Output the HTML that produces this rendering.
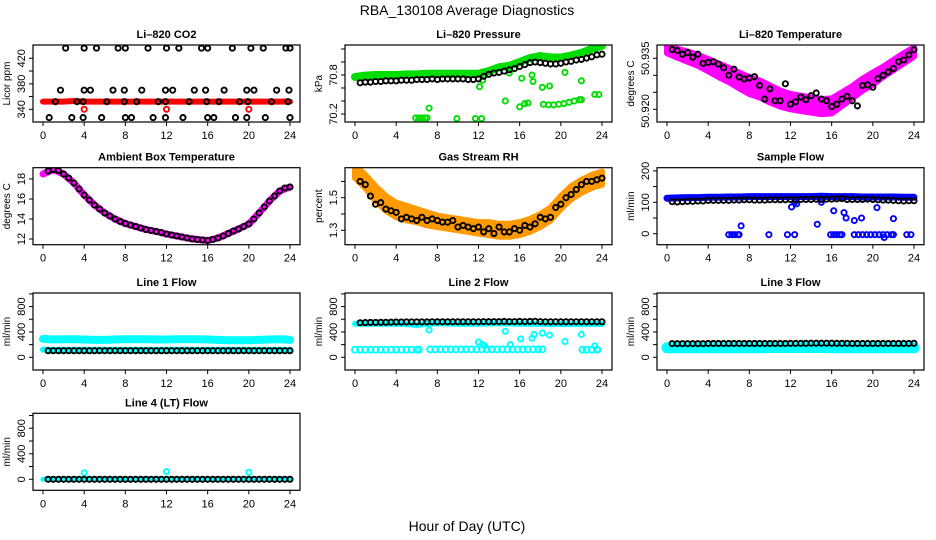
<!DOCTYPE html>
<html><head><meta charset="utf-8"><style>
html,body{margin:0;padding:0;background:#fff;}
svg{display:block;font-family:"Liberation Sans",sans-serif;}
</style></head><body>
<svg id="c" width="936" height="540" viewBox="0 0 936 540" xmlns="http://www.w3.org/2000/svg">
<text x="467" y="15" font-size="14" text-anchor="middle">RBA_130108  Average Diagnostics</text>
<text x="467" y="531" font-size="14" text-anchor="middle">Hour of Day (UTC)</text>
</svg>
<script>
// ---- shared hour arrays ----
const HB = [0.5,1,1.5,2,2.5,3,3.5,4,4.5,5,5.5,6,6.5,7,7.5,8,8.5,9,9.5,10,10.5,11,11.5,12,12.5,13,13.5,14,14.5,15,15.5,16,16.5,17,17.5,18,18.5,19,19.5,20,20.5,21,21.5,22,22.5,23,23.5,24];
const HD = [0,1,2,3,4,5,6,7,8,9,10,11,12,13,14,15,16,17,18,19,20,21,22,23,24];
const xTicks = [0,4,8,12,16,20,24];

// ---- CO2 ----
const co2H = [2.2,4.0,5.2,7.3,8.0,10.2,12.0,13.2,15.4,16.0,18.4,20.2,21.4,23.6,24,
 1.7,4.0,4.6,6.8,7.9,9.6,11.9,12.6,14.7,15.8,17.6,19.8,20.5,22.7,23.9,
 1.2,3.3,3.9,6.2,7.9,9.1,11.2,11.9,14.2,15.9,17.1,19.1,19.9,22.2,23.8,
 0.6,2.8,3.9,5.7,8.0,8.6,10.7,11.9,13.6,16.0,16.6,18.7,19.8,21.6,24.0];
const co2V = [436,436,436,436,436,436,436,436,436,436,436,436,436,436,436,
 370,370,370,370,370,370,370,370,370,370,370,370,370,370,370,
 352,352,352,352,352,352,352,352,352,352,352,352,352,352,352,
 327,327,327,327,327,327,327,327,327,327,327,327,327,327,327];
const co2Red = [352,352,352,353,352,352,352,352,352,352,352,352,352,352,352,352,352,352,352,352,352,352,352,352,352];
const co2RedOutH = [4,12,20];
const co2RedOutV = [340,340,340];

// ---- Pressure ----
const pressB = [70.68,70.69,70.69,70.70,70.70,70.71,70.71,70.71,70.72,70.72,70.72,70.73,70.73,70.73,70.74,70.73,70.74,70.74,70.74,70.74,70.74,70.73,70.73,70.74,70.78,70.81,70.83,70.84,70.86,70.88,70.90,70.93,70.96,70.99,71.00,70.99,70.98,70.97,70.97,70.98,71.00,71.01,71.03,71.04,71.06,71.08,71.11,71.12];
const pressG = [70.77,70.79,70.80,70.80,70.80,70.81,70.81,70.82,70.82,70.82,70.82,70.82,70.82,70.86,70.92,70.94,71.00,71.06,71.09,71.07,71.07,71.10,71.14,71.20,71.25];
const pressGH = [5.9,6.2,6.5,6.8,7.0,7.2,9.9,11.7,12.3,12.1,12.4,14.6,15.0,16.0,16.2,16.5,16.8,17.2,17.3,18.2,18.9,18.3,18.8,19.3,19.8,20.3,20.8,21.3,21.8,22.0,20.4,22.0,23.3,23.7];
const pressGV = [70.14,70.14,70.14,70.14,70.14,70.29,70.13,70.13,70.13,70.62,70.72,70.40,70.83,70.31,70.75,70.36,70.37,70.80,70.70,70.61,70.63,70.35,70.34,70.34,70.35,70.36,70.38,70.40,70.42,70.42,70.84,70.71,70.50,70.50];

// ---- Li-820 temperature ----
const tempHi = [50.9385,50.9378,50.9370,50.9360,50.9348,50.9335,50.9322,50.9308,50.9295,50.9285,50.9270,50.9255,50.9245,50.9240,50.9235,50.9230,50.9232,50.9250,50.9268,50.9290,50.9308,50.9325,50.9345,50.9365,50.9382];
const tempLo = [50.9365,50.9352,50.9340,50.9328,50.9312,50.9295,50.9280,50.9262,50.9245,50.9235,50.9220,50.9208,50.9200,50.9195,50.9190,50.9186,50.9188,50.9210,50.9232,50.9255,50.9272,50.9295,50.9315,50.9335,50.9355];
const tempB = [50.9376,50.9373,50.9362,50.9367,50.9353,50.9362,50.9335,50.9338,50.9340,50.9333,50.9322,50.9300,50.9318,50.9295,50.9289,50.9292,50.9296,50.9270,50.9230,50.9260,50.9225,50.9225,50.9275,50.9215,50.9222,50.9236,50.9228,50.9240,50.9248,50.9230,50.9225,50.9208,50.9215,50.9230,50.9238,50.9225,50.9210,50.9270,50.9272,50.9265,50.9290,50.9300,50.9310,50.9320,50.9340,50.9345,50.9360,50.9375];

// ---- Ambient box temperature ----
const ambB = [18.8,18.95,18.85,18.5,18.1,17.6,17.0,16.4,15.9,15.4,15.0,14.6,14.3,14.0,13.75,13.55,13.4,13.25,13.1,12.95,12.85,12.75,12.65,12.5,12.4,12.3,12.2,12.1,12.0,11.95,11.9,11.85,11.95,12.1,12.3,12.55,12.8,13.0,13.25,13.5,14.0,14.6,15.2,15.8,16.3,16.8,17.1,17.2];
const ambM = [18.5,18.95,18.5,17.6,16.4,15.4,14.6,14.0,13.55,13.25,12.95,12.75,12.5,12.3,12.1,11.95,11.85,12.1,12.55,13.0,13.5,14.6,15.8,16.8,17.2];

// ---- Gas stream RH ----
const rhHi = [1.70,1.64,1.57,1.51,1.47,1.45,1.43,1.41,1.39,1.38,1.37,1.36,1.35,1.35,1.34,1.34,1.35,1.37,1.40,1.44,1.51,1.57,1.61,1.64,1.66];
const rhLo = [1.62,1.56,1.48,1.42,1.38,1.36,1.35,1.33,1.32,1.31,1.30,1.29,1.28,1.27,1.26,1.26,1.27,1.29,1.32,1.36,1.43,1.49,1.53,1.56,1.58];
const rhB = [1.60,1.58,1.51,1.46,1.47,1.43,1.42,1.41,1.37,1.38,1.37,1.36,1.38,1.36,1.37,1.36,1.35,1.35,1.36,1.32,1.33,1.32,1.31,1.32,1.29,1.31,1.28,1.32,1.29,1.29,1.31,1.30,1.33,1.32,1.34,1.38,1.37,1.38,1.44,1.46,1.50,1.52,1.55,1.58,1.60,1.60,1.61,1.62];

// ---- Sample flow ----
const sampB = [102,101,102,103,103,104,104,106,106,106,106,106,107,107,108,108,107,107,107,108,108,108,108,109,108,109,109,109,110,109,110,110,111,112,109,109,109,109,110,109,108,107,107,106,105,104,105,105];
const sampBlue = [113,114,115,115,116,116,117,117,118,118,118,118,118,118,118,119,118,118,118,117,117,117,117,116,116];
const sampLoH = [6.0,6.3,6.6,6.9,7.0,9.9,11.7,12.4,15.9,16.2,16.5,16.8,17.0,18.2,18.6,19.0,19.4,19.8,20.2,20.6,21.0,21.1,21.4,21.8,22.0,23.3,23.7,7.2,12.1,12.4,12.6,14.6,15.0,16.2,17.2,17.4,18.2,18.9,20.4,22.0];
const sampLoV = [-3,-3,-3,-3,-3,-3,-3,-3,-3,-3,-3,-3,-3,-3,-3,-3,-3,-3,-3,-3,-3,-12,-3,-3,-3,-3,-3,25,85,100,95,30,100,73,67,50,42,50,83,48];

// ---- Line flows ----
const l1Cyan = [290,280,285,285,280,275,275,280,285,285,285,280,280,285,285,285,280,275,270,270,270,275,280,285,275];
const l1CyanLow = [120,120,118,118,118,118,118,118,118,118,118,118,118,118,118,118,118,118,118,118,118,118,118,118,118];
const l1B = [104,104,104,104,104,104,104,104,104,104,104,104,104,104,104,104,104,104,104,104,104,104,104,104,104,104,104,104,104,104,104,104,104,104,104,104,104,104,104,104,104,104,104,104,104,104,104,104];
const l2B = [545,548,550,550,552,552,555,556,556,558,558,558,558,558,560,560,560,560,560,560,560,560,560,560,562,562,562,562,565,562,562,565,562,565,568,562,560,560,560,560,560,560,560,560,560,560,560,560];
const l2Cyan = [530,530,530,530,530,525,510,530,535,535,530,530,530,535,535,535,530,530,530,525,525,525,525,530,525];
const l2LowH = [0,0.5,1,1.5,2,2.5,3,3.5,4,4.5,5,5.5,6,6.2,7.3,7.8,8.3,8.8,9.3,9.8,10.3,10.8,11.3,11.8,12.3,12.8,13.3,13.8,14.3,14.8,15.3,15.8,16.3,16.8,17.3,17.8,18.2,22.1,22.5,23.0,23.5];
const l2LowV = [120,120,120,120,120,120,120,120,120,120,120,120,120,120,125,125,125,125,125,125,125,125,125,125,125,125,125,125,125,125,125,125,125,125,125,125,125,120,120,120,120];
const l2OutH = [7.2,12.0,12.4,12.6,14.6,15.1,16.1,17.2,17.4,18.2,18.9,20.4,22.0,23.3,23.6];
const l2OutV = [430,240,200,180,410,200,290,300,360,380,350,250,360,180,120];
const l3Cyan = [150,150,150,150,150,150,150,150,150,150,155,155,155,155,155,155,150,150,150,150,150,150,150,150,150];
const l3B = [215,215,215,215,215,215,215,218,218,218,218,218,218,218,218,218,218,218,218,218,218,218,218,220,220,220,220,222,222,222,222,222,220,220,220,218,218,218,218,218,218,218,218,218,218,218,218,220];
const l4B = [0,0,0,0,0,0,0,0,0,0,0,0,0,0,0,0,0,0,0,0,0,0,0,0,0,0,0,0,0,0,0,0,0,0,0,0,0,0,0,0,0,0,0,0,0,0,0,0];
const l4Cyan = [0,0,0,0,0,0,0,0,0,0,0,0,0,0,0,0,0,0,0,0,0,0,0,0,0];
const l4OutH = [4,12,20];
const l4OutV = [100,120,110];

// ---------------- drawing ----------------
const NS = "http://www.w3.org/2000/svg";
const svg = document.getElementById('c');
const ROWT = [45, 167.7, 293, 413.3];
const PH = 77;
function mk(tag, attrs, parent) {
  const e = document.createElementNS(NS, tag);
  for (const k in attrs) e.setAttribute(k, attrs[k]);
  (parent || svg).appendChild(e);
  return e;
}
function panel(id, col, row, title, ylab, v0, p0, k, ticks, labels) {
  const L = 33 + 312 * col, R = 300 + 312 * col, T = ROWT[row], B = T + PH;
  const g = mk('g', {});
  
  
  const cp = mk('clipPath', {id: 'clip-' + id}, g);
  mk('rect', {x: L, y: T, width: R - L, height: PH}, cp);
  const P = {
    g, L, R, T, B,
    x: h => 43 + 312 * col + h * 247 / 24,
    y: v => T + p0 - (v - v0) * k
  };
  P.data = mk('g', {'clip-path': 'url(#clip-' + id + ')'}, g);
  const t = mk('text', {x: (L + R) / 2 + 0, y: T - 7, 'font-size': 11, 'font-weight': 'bold', 'text-anchor': 'middle'}, g);
  t.textContent = title;
  
  
  const yl = mk('text', {transform: 'translate(' + (10 + 312 * col) + ',' + (T + PH / 2) + ') rotate(-90)', 'font-size': 10, 'text-anchor': 'middle'}, g);
  yl.textContent = ylab;
  
  
  xTicks.forEach(h => {
    const xx = P.x(h);
    mk('line', {x1: xx, x2: xx, y1: B, y2: B + 4, stroke: '#000', 'stroke-width': 1}, g);
    const tl = mk('text', {x: xx, y: B + 17, 'font-size': 11, 'text-anchor': 'middle'}, g);
    tl.textContent = h;
    
    
  });
  ticks.forEach(v => {
    const yy = P.y(v);
    mk('line', {x1: L - 4, x2: L, y1: yy, y2: yy, stroke: '#000', 'stroke-width': 1}, g);
  });
  labels.forEach(lb => {
    const yy = P.y(lb[0]);
    const tl = mk('text', {transform: 'translate(' + (L - 8) + ',' + yy + ') rotate(-90)', 'font-size': 11, 'text-anchor': 'middle'}, g);
    tl.textContent = lb[1];
    
    
  });
  P.frame = function () {
    const f = mk('rect', {x: L, y: T, width: R - L, height: PH, fill: 'none', stroke: '#000', 'stroke-width': 1.2}, g);
    
    
  };
  return P;
}
function points(P, hs, vs, color, name, r) {
  const n = Math.min(hs.length, vs.length);
  for (let i = 0; i < n; i++) {
    const c = mk('circle', {cx: P.x(hs[i]), cy: P.y(vs[i]), r: r || 2.6, fill: 'none', stroke: color, 'stroke-width': 1.9}, P.data);
    
    
  }
}
function band(P, hs, vs, color, w, name) {
  const n = Math.min(hs.length, vs.length);
  let pts = [];
  for (let i = 0; i < n; i++) pts.push(P.x(hs[i]).toFixed(1) + ',' + P.y(vs[i]).toFixed(1));
  const pl = mk('polyline', {points: pts.join(' '), fill: 'none', stroke: color, 'stroke-width': w, 'stroke-linejoin': 'round', 'stroke-linecap': 'round'}, P.data);
  
  
}
function area(P, hs, lo, hi, color, name) {
  const n = Math.min(hs.length, lo.length, hi.length);
  let pts = [];
  for (let i = 0; i < n; i++) pts.push(P.x(hs[i]).toFixed(1) + ',' + P.y(hi[i]).toFixed(1));
  for (let i = n - 1; i >= 0; i--) pts.push(P.x(hs[i]).toFixed(1) + ',' + P.y(lo[i]).toFixed(1));
  const pg = mk('polygon', {points: pts.join(' '), fill: color, stroke: color, 'stroke-width': 6, 'stroke-linejoin': 'round'}, P.data);
  
  
}

let P = panel('co2', 0, 0, 'Li\u2013820 CO2', 'Licor ppm', 340, 64.3, 0.6375, [340,360,380,400,420], [[340,'340'],[380,'380'],[420,'420']]);
band(P, HD, co2Red, '#ff0000', 6, 'co2-red-series');
points(P, co2RedOutH, co2RedOutV, '#ff0000', 'co2-red-point');
points(P, co2H, co2V, '#000', 'co2-black-point');
P.frame();

P = panel('pressure', 1, 0, 'Li\u2013820 Pressure', 'kPa', 70.2, 69, 65, [70.2,70.4,70.6,70.8,71.0,71.2], [[70.2,'70.2'],[70.8,'70.8']]);
band(P, HD, pressG, '#00dd00', 8, 'pressure-green-series');
points(P, pressGH, pressGV, '#00dd00', 'pressure-green-point');
points(P, HB, pressB, '#000', 'pressure-black-point');
P.frame();

P = panel('li820-temp', 2, 0, 'Li\u2013820 Temperature', 'degrees C', 50.920, 64.3, 3400, [50.920,50.925,50.930,50.935], [[50.935,'50.935'],[50.9195,'50.920']]);
area(P, HD, tempLo, tempHi, '#ff00ff', 'li820-temp-magenta-series');
points(P, HB, tempB, '#000', 'li820-temp-black-point');
P.frame();

P = panel('ambient', 0, 1, 'Ambient Box Temperature', 'degrees C', 12, 71.3, 10, [12,14,16,18], [[12,'12'],[14,'14'],[16,'16'],[18,'18']]);
band(P, HD, ambM, '#ff00ff', 7, 'ambient-magenta-series');
points(P, HB, ambB, '#000', 'ambient-black-point');
P.frame();

P = panel('rh', 1, 1, 'Gas Stream RH', 'percent', 1.3, 62.6, 163, [1.3,1.4,1.5,1.6], [[1.3,'1.3'],[1.5,'1.5']]);
area(P, HD, rhLo, rhHi, '#ff9a00', 'rh-orange-series');
points(P, HB, rhB, '#000', 'rh-black-point');
P.frame();

P = panel('sample-flow', 2, 1, 'Sample Flow', 'ml/min', 0, 66, 0.314, [0,50,100,150,200], [[0,'0'],[100,'100'],[200,'200']]);
band(P, HD, sampBlue, '#0000ff', 7, 'sample-flow-blue-series');
points(P, sampLoH, sampLoV, '#0000ff', 'sample-flow-blue-point');
points(P, HB, sampB, '#000', 'sample-flow-black-point');
P.frame();

const flowTicks = [0,200,400,600,800,1000];
const flowLabels = [[0,'0'],[400,'400'],[800,'800']];
P = panel('line1', 0, 2, 'Line 1 Flow', 'ml/min', 0, 64.3, 0.0634, flowTicks, flowLabels);
band(P, HD, l1Cyan, '#00ffff', 8, 'line1-cyan-series');
band(P, HD, l1CyanLow, '#00ffff', 6, 'line1-cyan-low-series');
points(P, HB, l1B, '#000', 'line1-black-point');
P.frame();

P = panel('line2', 1, 2, 'Line 2 Flow', 'ml/min', 0, 64.3, 0.0634, flowTicks, flowLabels);
band(P, HD, l2Cyan, '#00ffff', 6, 'line2-cyan-series');
points(P, l2LowH, l2LowV, '#00ffff', 'line2-cyan-low-point', 3);
points(P, l2OutH, l2OutV, '#00ffff', 'line2-cyan-point');
points(P, HB, l2B, '#000', 'line2-black-point');
P.frame();

P = panel('line3', 2, 2, 'Line 3 Flow', 'ml/min', 0, 64.3, 0.0634, flowTicks, flowLabels);
band(P, HD, l3Cyan, '#00ffff', 11, 'line3-cyan-series');
points(P, HB, l3B, '#000', 'line3-black-point');
P.frame();

P = panel('line4', 0, 3, 'Line 4 (LT) Flow', 'ml/min', 0, 66, 0.0638, flowTicks, flowLabels);
band(P, HD, l4Cyan, '#00ffff', 5, 'line4-cyan-series');
points(P, l4OutH, l4OutV, '#00ffff', 'line4-cyan-point');
points(P, HB, l4B, '#000', 'line4-black-point');
P.frame();
</script>
</body></html>
